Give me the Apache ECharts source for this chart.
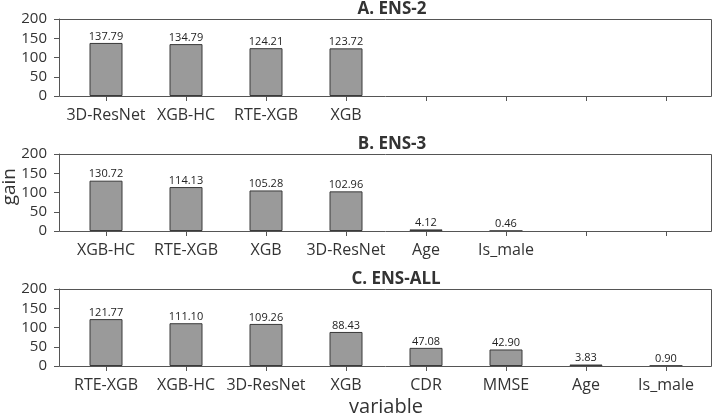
<!DOCTYPE html>
<html>
<head>
<meta charset="utf-8">
<script src="https://cdn.jsdelivr.net/npm/echarts@6/dist/echarts.min.js"></script>
<style>html,body{margin:0;padding:0;background:#fff}#c{width:713px;height:415px}</style>
</head>
<body>
<div id="c"></div>
<script>
// Data
var titles = ['A. ENS-2', 'B. ENS-3', 'C. ENS-ALL'];
var catsA = ['3D-ResNet', 'XGB-HC', 'RTE-XGB', 'XGB', ' ', '  ', '   ', '    '];
var valsA = [137.79, 134.79, 124.21, 123.72];
var catsB = ['XGB-HC', 'RTE-XGB', 'XGB', '3D-ResNet', 'Age', 'Is_male', ' ', '  '];
var valsB = [130.72, 114.13, 105.28, 102.96, 4.12, 0.46];
var catsC = ['RTE-XGB', 'XGB-HC', '3D-ResNet', 'XGB', 'CDR', 'MMSE', 'Age', 'Is_male'];
var valsC = [121.77, 111.10, 109.26, 88.43, 47.08, 42.90, 3.83, 0.90];
var yTicks = [0, 50, 100, 150, 200];
var xName = 'variable';
var yName = 'gain';

var cats = [catsA, catsB, catsC];
var vals = [valsA, valsB, valsC];
var tops = [19, 154, 289];
var titleX = [387, 387, 391];
var H = 77;
var FONT = '"Open Sans", "DejaVu Sans", sans-serif';
var frameColor = '#555';
var textColor = '#333';

var chart = echarts.init(document.getElementById('c'), null, {renderer: 'canvas'});
var grids = [], xAxes = [], yAxes = [], series = [], titleOpts = [], graphics = [];
for (var i = 0; i < 3; i++) {
  grids.push({left: 66, right: 7, top: tops[i], height: H, containLabel: false});
  titleOpts.push({
    text: titles[i], left: titleX[i], textAlign: 'center', top: tops[i] - 23,
    textStyle: {fontFamily: FONT, fontSize: 17, fontWeight: 'bold', color: textColor}
  });
  xAxes.push({
    type: 'category', gridIndex: i, data: cats[i],
    boundaryGap: true,
    axisLine: {show: false},
    axisTick: {show: true, alignWithLabel: true, length: 5, inside: false, lineStyle: {color: frameColor}},
    axisLabel: {fontFamily: FONT, fontSize: 16, color: textColor, margin: 11, interval: 0}
  });
  yAxes.push({
    type: 'value', gridIndex: i, min: yTicks[0], max: yTicks[yTicks.length - 1], interval: 50,
    offset: 7,
    axisLine: {show: true, lineStyle: {color: frameColor}},
    axisTick: {show: true, length: 5, lineStyle: {color: frameColor}},
    axisLabel: {fontFamily: FONT, fontSize: 15, color: textColor, margin: 12},
    splitLine: {show: false}
  });
  series.push({
    type: 'bar', xAxisIndex: i, yAxisIndex: i, data: vals[i],
    barWidth: 33,
    itemStyle: {color: '#9a9a9a', borderColor: '#3a3a3a', borderWidth: 1},
    label: {
      show: true, position: 'top', distance: 1,
      fontFamily: FONT, fontSize: 11, color: '#222',
      formatter: function (p) { return p.value.toFixed(2); }
    },
    silent: true, animation: false
  });
  graphics.push({
    type: 'rect', silent: true, z: 10,
    shape: {x: 59.5, y: tops[i] + 0.5, width: 652, height: H},
    style: {fill: null, stroke: frameColor, lineWidth: 1}
  });
}
graphics.push({
  type: 'text', silent: true, left: 0, top: 168, rotation: Math.PI / 2,
  style: {text: yName, fontFamily: FONT, fontSize: 19, fill: textColor}
});
graphics.push({
  type: 'text', silent: true, x: 386, y: 407,
  style: {text: xName, fontFamily: FONT, fontSize: 20, fill: textColor, align: 'center', verticalAlign: 'middle'}
});

chart.setOption({
  animation: false,
  title: titleOpts,
  grid: grids,
  xAxis: xAxes,
  yAxis: yAxes,
  series: series,
  graphic: graphics
});
</script>
</body>
</html>
